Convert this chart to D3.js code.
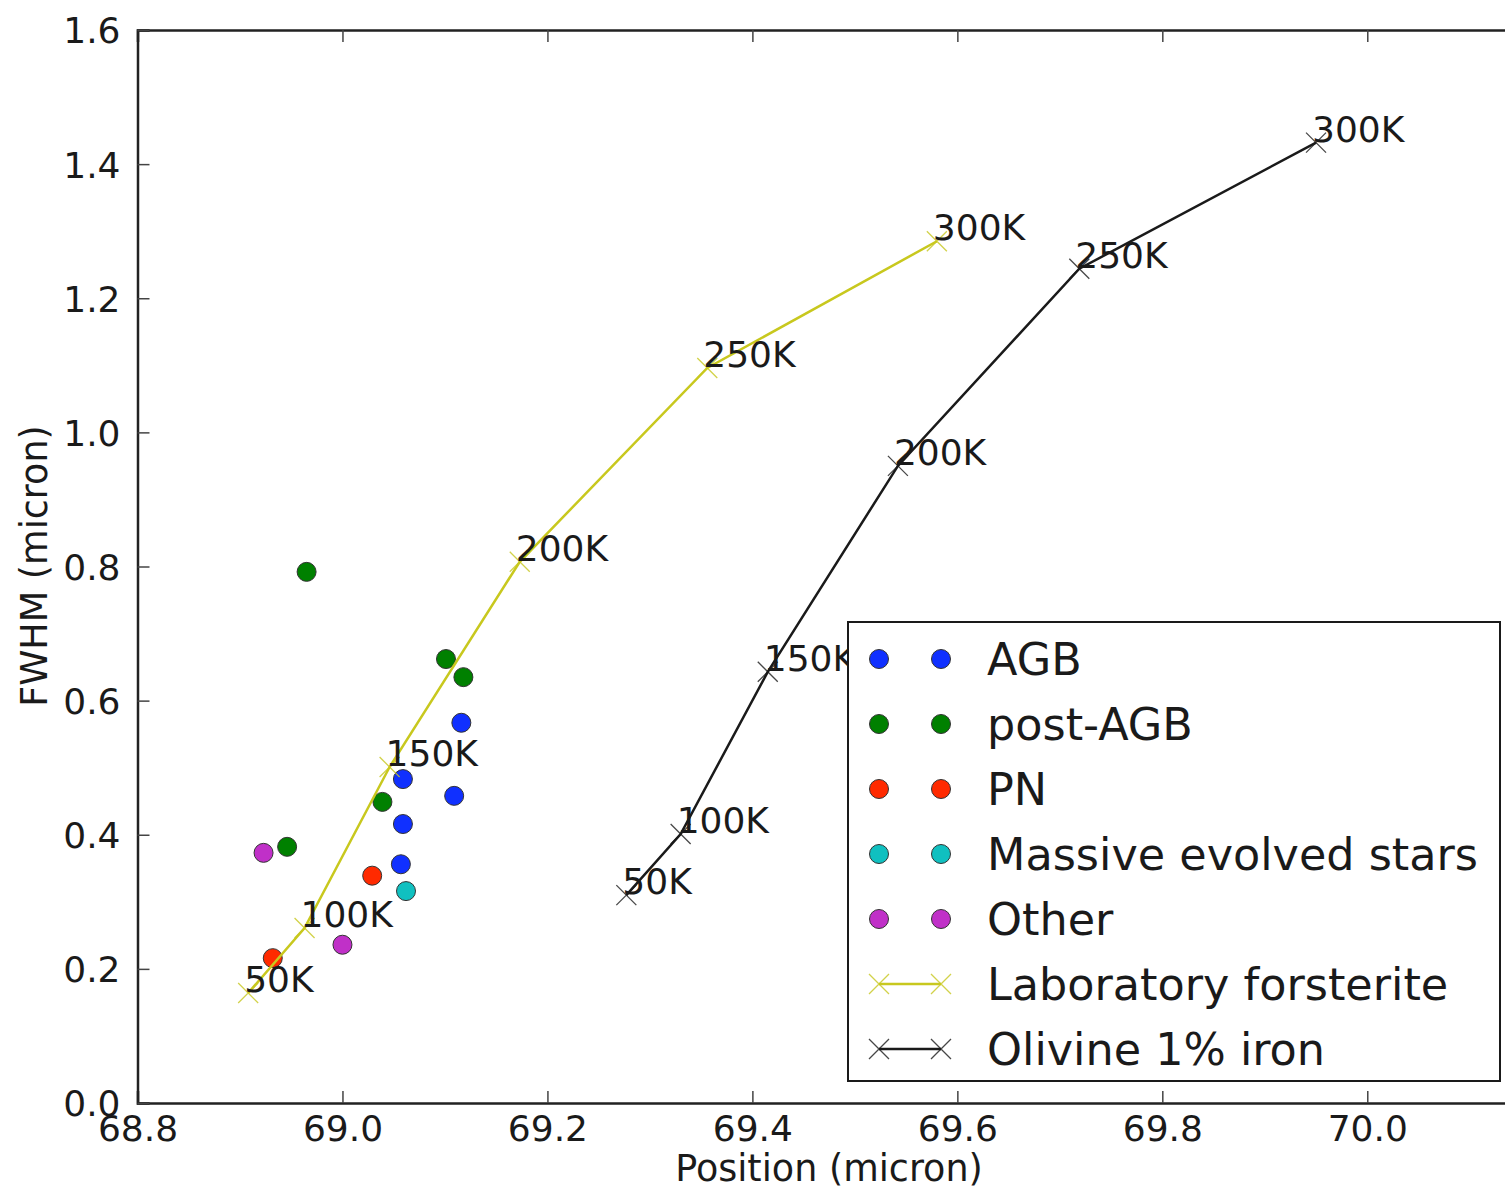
<!DOCTYPE html>
<html>
<head>
<meta charset="utf-8">
<script src="https://cdn.jsdelivr.net/npm/d3@7"></script>
<style>
  html, body { margin: 0; padding: 0; background: #fff; }
  svg { display: block; font-family: "DejaVu Sans", sans-serif; }
</style>
</head>
<body>
<div id="chart"></div>
<script>
// Temperaturen der Laborkurven
const tempLabels = ["50K", "100K", "150K", "200K", "250K", "300K"];

const forsteriteX = [68.908, 68.963, 69.046, 69.173, 69.356, 69.580];
const forsteriteY = [0.164, 0.261, 0.501, 0.807, 1.096, 1.285];

const olivineX = [69.277, 69.330, 69.415, 69.542, 69.719, 69.950];
const olivineY = [0.310, 0.401, 0.643, 0.950, 1.244, 1.432];

// Sterne nach Typ
const agbX = [69.116, 69.059, 69.109, 69.059, 69.057];
const agbY = [0.567, 0.483, 0.458, 0.416, 0.356];
const postAgbX = [68.965, 69.101, 69.118, 69.039, 68.946];
const postAgbY = [0.792, 0.662, 0.635, 0.449, 0.382];
const pnX = [69.029, 68.932];
const pnY = [0.339, 0.216];
const massiveX = [69.062];
const massiveY = [0.316];
const otherX = [68.923, 69.000];
const otherY = [0.373, 0.236];

const xTicks = [68.8, 69.0, 69.2, 69.4, 69.6, 69.8, 70.0];
const yTicks = [0.0, 0.2, 0.4, 0.6, 0.8, 1.0, 1.2, 1.4, 1.6];

(function () {
  const W = 1505, H = 1189;
  const margin = { top: 30, left: 137.5, bottom: 86, rightEdge: 1521 };

  const svg = d3.select("#chart").append("svg")
    .attr("width", W).attr("height", H);

  const x = d3.scaleLinear().domain([68.8, 70.15]).range([margin.left, margin.rightEdge]);
  const y = d3.scaleLinear().domain([0, 1.6]).range([H - margin.bottom, margin.top]);

  const axisColor = "#222";

  // Achsen (Ticks nach innen, auch oben/rechts)
  const tickLen = 12;
  const xb = svg.append("g").attr("transform", `translate(0,${y(0)})`)
    .call(d3.axisBottom(x).tickValues(xTicks).tickSize(-tickLen).tickPadding(12).tickFormat(d3.format(".1f")));
  const xt = svg.append("g").attr("transform", `translate(0,${y(1.6)})`)
    .call(d3.axisTop(x).tickValues(xTicks).tickSize(-tickLen).tickFormat(""));
  const yl = svg.append("g").attr("transform", `translate(${x(68.8)},0)`)
    .call(d3.axisLeft(y).tickValues(yTicks).tickSize(-tickLen).tickPadding(17).tickFormat(d3.format(".1f")));
  const yr = svg.append("g").attr("transform", `translate(${margin.rightEdge},0)`)
    .call(d3.axisRight(y).tickValues(yTicks).tickSize(-tickLen).tickFormat(""));

  [xb, xt, yl, yr].forEach(g => {
    g.select(".domain").attr("stroke", axisColor).attr("stroke-width", 2.5);
    g.selectAll(".tick line").attr("stroke", "#444").attr("stroke-width", 1.5);
    g.selectAll("text").attr("font-family", "DejaVu Sans").attr("font-size", 36).attr("fill", "#1a1a1a");
  });
  xb.selectAll("text").attr("dy", "0.71em");
  yl.selectAll("text").attr("dy", "0.36em");

  // Achsenbeschriftung
  svg.append("text")
    .attr("x", 829).attr("y", 1181)
    .attr("text-anchor", "middle")
    .attr("font-size", 36.5).attr("fill", "#1a1a1a")
    .text("Position (micron)");

  svg.append("text")
    .attr("transform", `translate(47,${566}) rotate(-90)`)
    .attr("text-anchor", "middle")
    .attr("font-size", 36.5).attr("fill", "#1a1a1a")
    .text("FWHM (micron)");

  // Sterne
  const groups = [
    { name: "AGB", xs: agbX, ys: agbY, color: "#1030ff" },
    { name: "post-AGB", xs: postAgbX, ys: postAgbY, color: "#008000" },
    { name: "PN", xs: pnX, ys: pnY, color: "#ff2a00" },
    { name: "Massive evolved stars", xs: massiveX, ys: massiveY, color: "#10c0c0" },
    { name: "Other", xs: otherX, ys: otherY, color: "#c030c8" }
  ];

  const dotsG = svg.append("g");
  groups.forEach(gr => {
    dotsG.selectAll(null)
      .data(gr.xs.map((v, i) => [v, gr.ys[i]]))
      .enter().append("circle")
      .attr("cx", d => x(d[0]))
      .attr("cy", d => y(d[1]))
      .attr("r", 9.5)
      .attr("fill", gr.color)
      .attr("stroke", "#333")
      .attr("stroke-width", 1);
  });

  // Laborkurven
  const curves = [
    { name: "Laboratory forsterite", xs: forsteriteX, ys: forsteriteY, color: "#c8c81e" },
    { name: "Olivine 1% iron", xs: olivineX, ys: olivineY, color: "#1a1a1a" }
  ];

  const line = d3.line().x(d => x(d[0])).y(d => y(d[1]));
  const xMark = "M-10,-10L10,10M-10,10L10,-10";

  curves.forEach(c => {
    const pts = c.xs.map((v, i) => [v, c.ys[i]]);
    svg.append("path")
      .attr("d", line(pts))
      .attr("fill", "none")
      .attr("stroke", c.color)
      .attr("stroke-width", 2.5);
    svg.append("g").selectAll("path")
      .data(pts).enter().append("path")
      .attr("transform", d => `translate(${x(d[0])},${y(d[1])})`)
      .attr("d", xMark)
      .attr("stroke", c.color)
      .attr("stroke-width", 1.3)
      .attr("opacity", 0.8);
    svg.append("g").selectAll("text")
      .data(pts).enter().append("text")
      .attr("x", d => x(d[0]) - 4)
      .attr("y", d => y(d[1]) - 1)
      .attr("font-size", 36)
      .attr("fill", "#1a1a1a")
      .text((d, i) => tempLabels[i]);
  });

  // Legende
  const lg = svg.append("g");
  lg.append("rect")
    .attr("x", 848).attr("y", 622)
    .attr("width", 652).attr("height", 459)
    .attr("fill", "#fff")
    .attr("stroke", "#1a1a1a").attr("stroke-width", 2);

  const entries = groups.map(g => ({ name: g.name, color: g.color, type: "dot" }))
    .concat(curves.map(c => ({ name: c.name, color: c.color, type: "line" })));

  entries.forEach((e, i) => {
    const cy = 659 + i * 65;
    if (e.type === "dot") {
      [879, 941].forEach(cx => {
        lg.append("circle")
          .attr("cx", cx).attr("cy", cy).attr("r", 9.5)
          .attr("fill", e.color).attr("stroke", "#333").attr("stroke-width", 1);
      });
    } else {
      lg.append("line")
        .attr("x1", 879).attr("x2", 941).attr("y1", cy).attr("y2", cy)
        .attr("stroke", e.color).attr("stroke-width", 2.5);
      [879, 941].forEach(cx => {
        lg.append("path")
          .attr("transform", `translate(${cx},${cy})`)
          .attr("d", xMark)
          .attr("stroke", e.color).attr("stroke-width", 1.3).attr("opacity", 0.8);
      });
    }
    lg.append("text")
      .attr("x", 987).attr("y", cy + 16)
      .attr("font-size", 44.5).attr("fill", "#1a1a1a")
      .text(e.name);
  });
})();
</script>
</body>
</html>
